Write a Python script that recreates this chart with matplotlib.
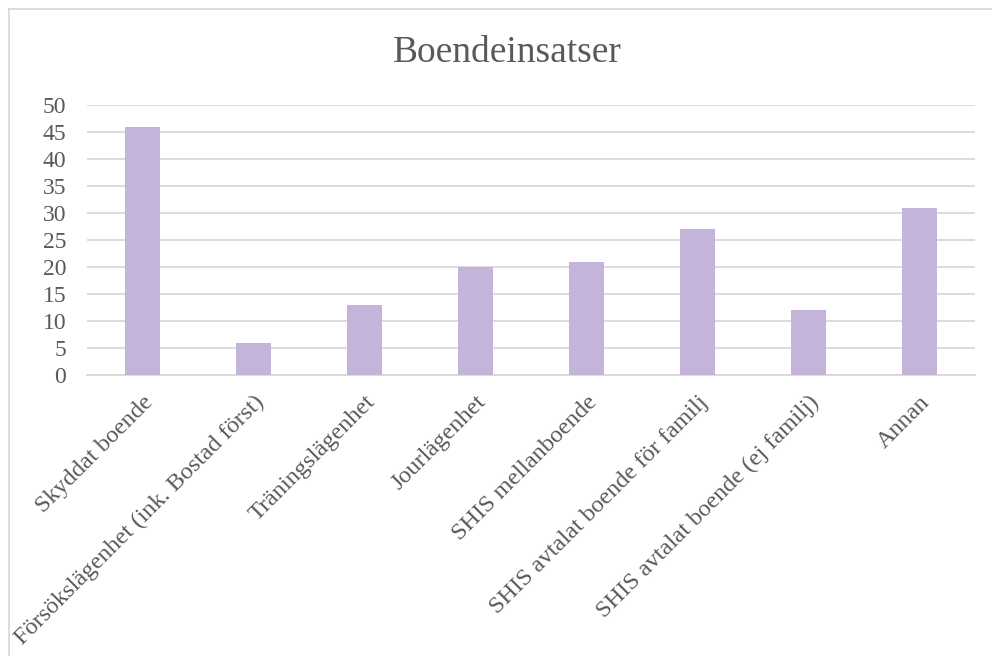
import matplotlib.pyplot as plt
from matplotlib.lines import Line2D

plt.rcParams['font.family'] = ['Liberation Serif', 'DejaVu Serif']

kategorier = ['Skyddat boende', 'Försökslägenhet (ink. Bostad först)', 'Träningslägenhet',
              'Jourlägenhet', 'SHIS mellanboende', 'SHIS avtalat boende för familj',
              'SHIS avtalat boende (ej familj)', 'Annan']
antal = [46, 6, 13, 20, 21, 27, 12, 31]
yticks = [0, 5, 10, 15, 20, 25, 30, 35, 40, 45, 50]

textfarg = '#595959'
gridfarg = '#D9D9D9'

fig = plt.figure(figsize=(9.92, 6.56), dpi=100)
ax = fig.add_axes([0.0877, 0.4284, 0.8953, 0.4116])

ax.bar(range(len(antal)), antal, width=0.315, color='#C4B4D9', zorder=3)
ax.set_xlim(-0.5, len(antal) - 0.5)
ax.set_ylim(0, 50)
ax.set_yticks(yticks)
ax.yaxis.grid(True, color=gridfarg, lw=1.3, zorder=0)
for s in ['top', 'right', 'left']:
    ax.spines[s].set_visible(False)
ax.spines['bottom'].set_color(gridfarg)
ax.spines['bottom'].set_linewidth(1.3)
ax.tick_params(axis='both', length=0, labelsize=17, labelcolor=textfarg)
ax.tick_params(axis='y', pad=15)
ax.set_xticks(range(len(antal)))
ax.set_xticklabels(kategorier, rotation=45, ha='right', va='top', rotation_mode='anchor',
                   fontsize=17.5)
ax.tick_params(axis='x', pad=12)

fig.text(0.511, 0.92, 'Boendeinsatser', ha='center', va='center', fontsize=27, color=textfarg)

# ramen runt diagrammet
fig.add_artist(Line2D([9/992, 1], [1 - 9/656, 1 - 9/656], color='#D9D9D9', lw=1.3))
fig.add_artist(Line2D([9/992, 9/992], [0, 1 - 9/656], color='#D9D9D9', lw=1.3))

plt.savefig('out.png', dpi=100)
